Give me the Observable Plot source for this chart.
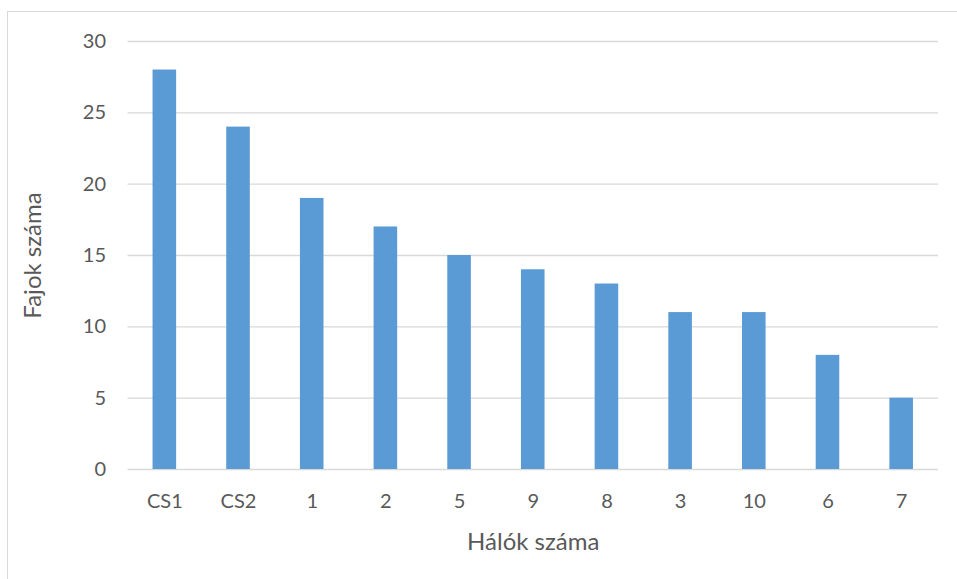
<!DOCTYPE html>
<html>
<head>
<meta charset="utf-8">
<script src="https://cdn.jsdelivr.net/npm/d3@7"></script>
<script src="https://cdn.jsdelivr.net/npm/@observablehq/plot@0.6"></script>
<style>
  html, body { margin: 0; padding: 0; background: #fff; overflow: hidden; }
  #wrap { position: relative; width: 957px; height: 579px; }
  #border { position: absolute; left: 7px; top: 11px; width: 980px; height: 600px; border: 1px solid #D9D9D9; box-sizing: border-box; }
  #chart { position: absolute; left: 0; top: 0; }
</style>
</head>
<body>
<div id="wrap"><div id="border"></div><div id="chart"></div></div>
<script>
const categories = ["CS1", "CS2", "1", "2", "5", "9", "8", "3", "10", "6", "7"];
const values = [28, 24, 19, 17, 15, 14, 13, 11, 11, 8, 5];
const yTicks = [0, 5, 10, 15, 20, 25, 30];
const xTitle = "Hálók száma";
const yTitle = "Fajok száma";

const data = categories.map((c, i) => ({cat: c, val: values[i]}));
const font = "Lato, 'Noto Sans', sans-serif";

const chart = Plot.plot({
  width: 957,
  height: 579,
  marginLeft: 127.5,
  marginRight: 19,
  marginTop: 41,
  marginBottom: 110,
  style: {fontFamily: font, fontSize: "20px", color: "#595959", background: "transparent"},
  x: {domain: categories, range: [127.5, 938], paddingInner: 0.68, paddingOuter: 0.34, align: 0.5, round: false},
  y: {domain: [0, 30], range: [469, 41]},
  marks: [
    Plot.gridY(yTicks, {stroke: "#D9D9D9", strokeOpacity: 1, strokeWidth: 1.3}),
    Plot.barY(data, {x: "cat", y: "val", fill: "#5B9BD5"}),
    Plot.axisX({tickSize: 0, tickPadding: 24, fontSize: 20, label: null}),
    Plot.axisX({tickSize: 0, ticks: [], label: xTitle, labelAnchor: "center", labelArrow: "none", labelOffset: 80, fontSize: 24}),
    Plot.axisY(yTicks, {tickSize: 0, tickPadding: 22, fontSize: 20, label: null}),
    Plot.axisY([], {tickSize: 0, label: yTitle, labelAnchor: "center", labelArrow: "none", labelOffset: 104, fontSize: 24})
  ]
});
document.getElementById("chart").appendChild(chart);
</script>
</body>
</html>
